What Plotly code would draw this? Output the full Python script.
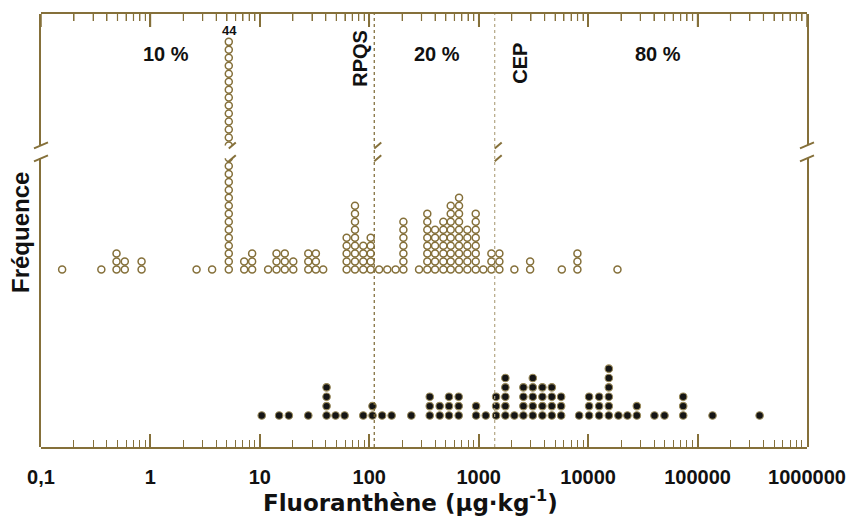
import plotly.graph_objects as go

# ---------------- data ----------------
open_x = [0.156, 0.356, 0.49, 0.583, 0.83, 2.64, 3.66, 5.2, 7.19, 8.5, 11.9, 14.2, 16.9, 20.2,
          27.7, 32.5, 37.9, 62.1, 74, 88.1, 103, 123, 146, 174, 205, 285, 339, 399, 475, 555,
          661, 787, 939, 1102, 1306, 1545, 2118, 2950, 5745, 7980, 18540]
open_n = [1, 1, 3, 2, 2, 1, 1, 44, 2, 3, 1, 3, 3, 2, 3, 3, 1, 5, 9, 4, 5, 1, 1, 1, 7, 1, 8, 6,
          7, 9, 10, 6, 8, 1, 3, 3, 1, 2, 1, 3, 1]

fill_x = [10.4, 15.0, 18.4, 27.7, 40.7, 49.2, 59.5, 88.1, 107, 131, 160, 242, 357, 440, 535,
          656, 946, 1160, 1441, 1752, 2118, 2560, 3120, 3818, 4656, 5663, 8275, 10200, 12600,
          15450, 18920, 22860, 27860, 40360, 49860, 73900, 137000, 369000]
fill_n = [1, 1, 1, 1, 4, 1, 1, 1, 2, 1, 1, 1, 3, 2, 3, 3, 2, 1, 3, 5, 1, 4, 5, 4, 4, 3, 1, 3,
          3, 6, 1, 1, 2, 1, 1, 3, 1, 1]

tick_vals = [0.1, 1, 10, 100, 1000, 10000, 100000, 1000000]
tick_text = ["0,1", "1", "10", "100", "1000", "10000", "100000", "1000000"]

RPQS = 111
CEP = 1400
BIG_COL_X = 5.2
BIG_COL_N = 44
zone_labels = ["10 %", "20 %", "80 %"]

# ---------------- styling ----------------
BROWN = "#85703a"
FONT = "Liberation Sans, Arial, sans-serif"
W, H = 863, 518
L, R, T, B = 41, 56, 12, 71
PH = H - T - B  # plot height in px
BOT = H - B
MAJ_LEN, MIN_LEN = 13, 7


def frac(pix):
    return (BOT - pix) / PH


def xf(pix):
    return (pix - L) / (W - L - R)


def stack(xs, ns):
    px, py = [], []
    for x, n in zip(xs, ns):
        for k in range(1, n + 1):
            px.append(x)
            py.append(k)
    return px, py


ox, oy = stack(open_x, open_n)
fx, fy = stack(fill_x, fill_n)

# axis geometry (pixel anchors of the rows)
OPEN_BASE, OPEN_STEP = 268.7, 8.0
FILL_BASE, FILL_STEP = 415.3, 9.4
UP_TOP_ROW_PIX = 40.0
LOW_TOP, UP_BOT = 157, 144

open_range = [1 + (OPEN_BASE - BOT) / OPEN_STEP, 1 + (OPEN_BASE - LOW_TOP) / OPEN_STEP]
fill_range = [1 + (FILL_BASE - BOT) / FILL_STEP, 1 + (FILL_BASE - LOW_TOP) / FILL_STEP]
up_range = [BIG_COL_N + (UP_TOP_ROW_PIX - UP_BOT) / OPEN_STEP,
            BIG_COL_N + (UP_TOP_ROW_PIX - T) / OPEN_STEP]

open_marker = dict(symbol="circle", size=7, color="white", line=dict(color=BROWN, width=1.5))
fill_marker = dict(symbol="circle", size=7.5, color="#151515", line=dict(color="#9a8a5a", width=1.1))

fig = go.Figure()

# top-edge ticks on the full-height frame axis (y: 0..1 over the whole plot)
maj_x, maj_y, min_x, min_y = [], [], [], []
for d in tick_vals:
    maj_x += [d, d, None]
    maj_y += [1, 1 - MAJ_LEN / PH, None]
    if d < tick_vals[-1]:
        for m in range(2, 10):
            min_x += [d * m, d * m, None]
            min_y += [1, 1 - MIN_LEN / PH, None]
fig.add_trace(go.Scatter(x=maj_x, y=maj_y, mode="lines", line=dict(color=BROWN, width=1.5),
                         xaxis="x", yaxis="y", showlegend=False, hoverinfo="skip",
                         cliponaxis=False))
fig.add_trace(go.Scatter(x=min_x, y=min_y, mode="lines", line=dict(color=BROWN, width=1.2),
                         xaxis="x", yaxis="y", showlegend=False, hoverinfo="skip",
                         cliponaxis=False))

fig.add_trace(go.Scatter(x=ox, y=oy, mode="markers", marker=open_marker,
                         xaxis="x", yaxis="y2", showlegend=False, cliponaxis=True))
fig.add_trace(go.Scatter(x=ox, y=oy, mode="markers", marker=open_marker,
                         xaxis="x", yaxis="y3", showlegend=False, cliponaxis=True))
fig.add_trace(go.Scatter(x=fx, y=fy, mode="markers", marker=fill_marker,
                         xaxis="x", yaxis="y4", showlegend=False, cliponaxis=True))

ycommon = dict(showgrid=False, zeroline=False, showticklabels=False, ticks="",
               showline=True, mirror=True, linecolor=BROWN, linewidth=2, fixedrange=True)

fig.update_layout(
    width=W, height=H, autosize=False,
    margin=dict(l=L, r=R, t=T, b=B),
    plot_bgcolor="rgba(0,0,0,0)", paper_bgcolor="white",
    xaxis=dict(type="log", range=[-1, 6], showgrid=False, zeroline=False, anchor="y",
               showline=True, linecolor=BROWN, linewidth=2, mirror="ticks", fixedrange=True,
               tickvals=tick_vals, ticktext=tick_text,
               ticks="inside", ticklen=MAJ_LEN, tickwidth=1.5, tickcolor=BROWN,
               minor=dict(ticks="inside", ticklen=MIN_LEN, tickwidth=1.2, tickcolor=BROWN,
                          dtick="D1", showgrid=False),
               tickfont=dict(family=FONT, size=20, color="#111111", weight="bold"),
               ticklabelstandoff=11),
    # full-height frame axis (anchor of the x axis, carries the top ticks)
    yaxis=dict(domain=[0, 1], range=[0, 1], showgrid=False, zeroline=False,
               showticklabels=False, ticks="", showline=False, fixedrange=True),
    # lower panel, open circles
    yaxis2=dict(**ycommon, domain=[0, frac(LOW_TOP)], range=open_range, anchor="x"),
    # upper panel (top of the 44 column)
    yaxis3=dict(**ycommon, domain=[frac(UP_BOT), 1], range=up_range, anchor="x"),
    # lower panel, filled dots
    yaxis4=dict(showgrid=False, zeroline=False, visible=False, overlaying="y2",
                range=fill_range, anchor="x", fixedrange=True),
)

shapes = []
# threshold lines
shapes.append(dict(type="line", xref="x", yref="paper", x0=RPQS, x1=RPQS, y0=0, y1=1,
                   line=dict(color="#7a6530", width=1.2, dash="dot")))
shapes.append(dict(type="line", xref="x", yref="paper", x0=CEP, x1=CEP, y0=0, y1=1,
                   line=dict(color="#b3a684", width=1.2, dash="dot")))
# break marks
for xr, xa in [("paper", 0), ("paper", 1), ("x", BIG_COL_X), ("x", RPQS), ("x", CEP)]:
    for ypix in (UP_BOT, LOW_TOP):
        shapes.append(dict(type="line", xref=xr, yref="paper",
                           xsizemode="pixel", xanchor=xa, x0=-7, x1=7,
                           ysizemode="pixel", yanchor=frac(ypix), y0=-3, y1=3,
                           line=dict(color=BROWN, width=2)))
fig.update_layout(shapes=shapes)


def label(text, px, py, size=20, angle=0, family=FONT):
    return dict(text=text, x=xf(px), y=frac(py), xref="paper", yref="paper",
                xanchor="center", yanchor="middle", showarrow=False, textangle=angle,
                font=dict(family=family, size=size, color="#111111", weight="bold"))


ann = []
for text, px in zip(zone_labels, [165.5, 437, 657.5]):
    ann.append(label(text, px, 52))
ann.append(label("RPQS", 360, 57, angle=-90))
ann.append(label("CEP", 520, 62, angle=-90))
ann.append(label(str(BIG_COL_N), 229, 29, size=13))
ann.append(label("Fréquence", 21, 232, size=24, angle=-90))
ann.append(label("Fluoranthène (µg·kg<sup>-1</sup>)", 410, 501, size=23,
                 family="DejaVu Sans, sans-serif"))
fig.update_layout(annotations=ann)

fig.write_html("out.html", config={"displayModeBar": False},
               post_script="document.body.style.margin='0px';")
